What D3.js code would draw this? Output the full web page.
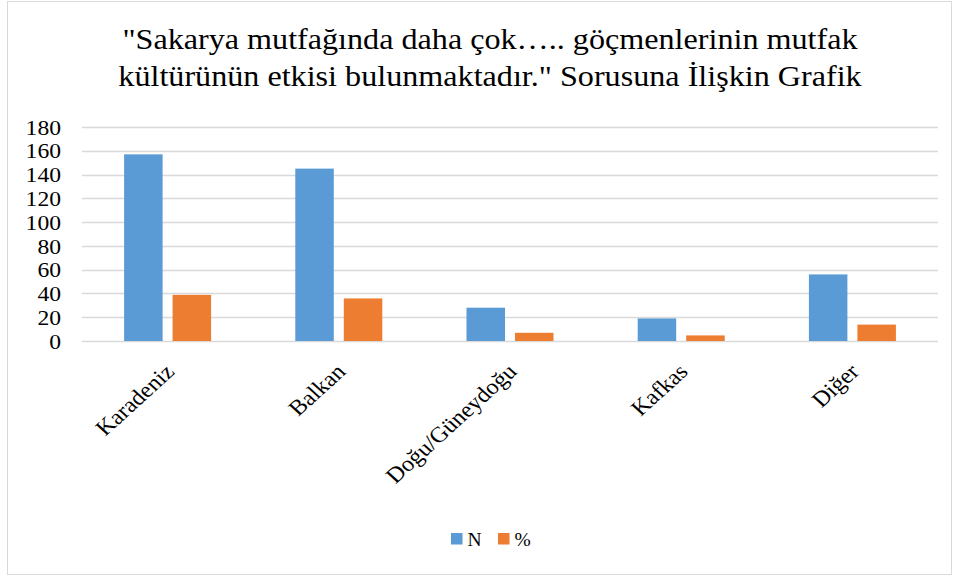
<!DOCTYPE html>
<html><head><meta charset="utf-8">
<script src="https://cdnjs.cloudflare.com/ajax/libs/d3/7.8.5/d3.min.js"></script>
<style>body{margin:0;background:#fff}svg{display:block}</style>
</head><body><svg id="c" width="961" height="579"></svg>
<script>
const categories = ["Karadeniz","Balkan","Doğu/Güneydoğu","Kafkas","Diğer"];
const seriesNames = ["N","%"];
const valuesN = [157,145,28,19,56];
const valuesPct = [38.8,35.8,6.9,4.7,13.8];
const yTicks = [0,20,40,60,80,100,120,140,160,180];
const titleLines = ["\"Sakarya mutfağında daha çok….. göçmenlerinin mutfak","kültürünün etkisi bulunmaktadır.\" Sorusuna İlişkin Grafik"];
const colors = ["#5b9bd5","#ed7d31"];
const FONT = "'Liberation Serif', 'Times New Roman', Times, serif";

const svg = d3.select("#c");
svg.append("rect").attr("x",7.5).attr("y",1.5).attr("width",944).attr("height",573)
  .attr("fill","#fff").attr("stroke","#d9d9d9").attr("stroke-width",1);

const L=82,R=938,T=127,B=341;
const x = d3.scaleBand().domain(categories).range([L,R]).paddingInner(0).paddingOuter(0);
const x1 = d3.scaleBand().domain(seriesNames).range([0,x.bandwidth()]).paddingInner(0.206).paddingOuter(0.868);
const y = d3.scaleLinear().domain([0,180]).range([B,T]);

// title
const tg = svg.append("g").attr("transform","translate(490,0) scale(1.09,1)");
tg.selectAll("text").data(titleLines).join("text")
  .attr("x",0).attr("y",(d,i)=>49.5+i*37).attr("text-anchor","middle")
  .attr("font-family",FONT).attr("font-size",29.5).attr("fill","#000").text(d=>d);

// gridlines
svg.append("g").selectAll("line").data(yTicks).join("line")
  .attr("x1",L).attr("x2",R).attr("y1",d=>Math.round(y(d))+0.5).attr("y2",d=>Math.round(y(d))+0.5)
  .attr("stroke","#d9d9d9").attr("stroke-width",1.5);

// y axis labels
const yAxis = d3.axisLeft(y).tickValues(yTicks).tickSize(0).tickPadding(0);
const ya = svg.append("g").attr("transform",`translate(61,0)`).call(yAxis)
  .attr("font-family",FONT).attr("font-size",20);
ya.select(".domain").remove();
ya.selectAll("text").attr("dy","0.36em").attr("fill","#000").attr("transform","scale(1.18,1)");

// bars
const data = categories.map((c,i)=>({c, vals:[valuesN[i],valuesPct[i]]}));
const g = svg.append("g").selectAll("g").data(data).join("g").attr("transform",d=>`translate(${x(d.c)},0)`);
g.selectAll("rect").data(d=>d.vals.map((v,j)=>({s:seriesNames[j],v,j}))).join("rect")
  .attr("x",d=>x1(d.s)).attr("width",x1.bandwidth())
  .attr("y",d=>y(d.v)).attr("height",d=>B-y(d.v)).attr("fill",d=>colors[d.j]);

// x axis labels
const xAxis = d3.axisBottom(x).tickSize(0).tickPadding(0);
const xa = svg.append("g").attr("transform",`translate(0,${B})`).call(xAxis)
  .attr("font-family",FONT).attr("font-size",22);
xa.select(".domain").remove();
xa.selectAll("text").attr("fill","#000")
  .attr("text-anchor","end").attr("dy",null).attr("y",0)
  .attr("transform","translate(8,32) scale(1.1,1) rotate(-45)");

// legend
const leg = svg.append("g").attr("transform","translate(451,533)");
seriesNames.forEach((s,i)=>{
  const gg = leg.append("g").attr("transform",`translate(${i*47},0)`);
  gg.append("rect").attr("width",11.5).attr("height",11.5).attr("fill",colors[i]);
  gg.append("text").attr("x",16.5).attr("y",13).attr("font-family",FONT).attr("font-size",19.5).attr("fill","#000").text(s);
});
</script></body></html>
